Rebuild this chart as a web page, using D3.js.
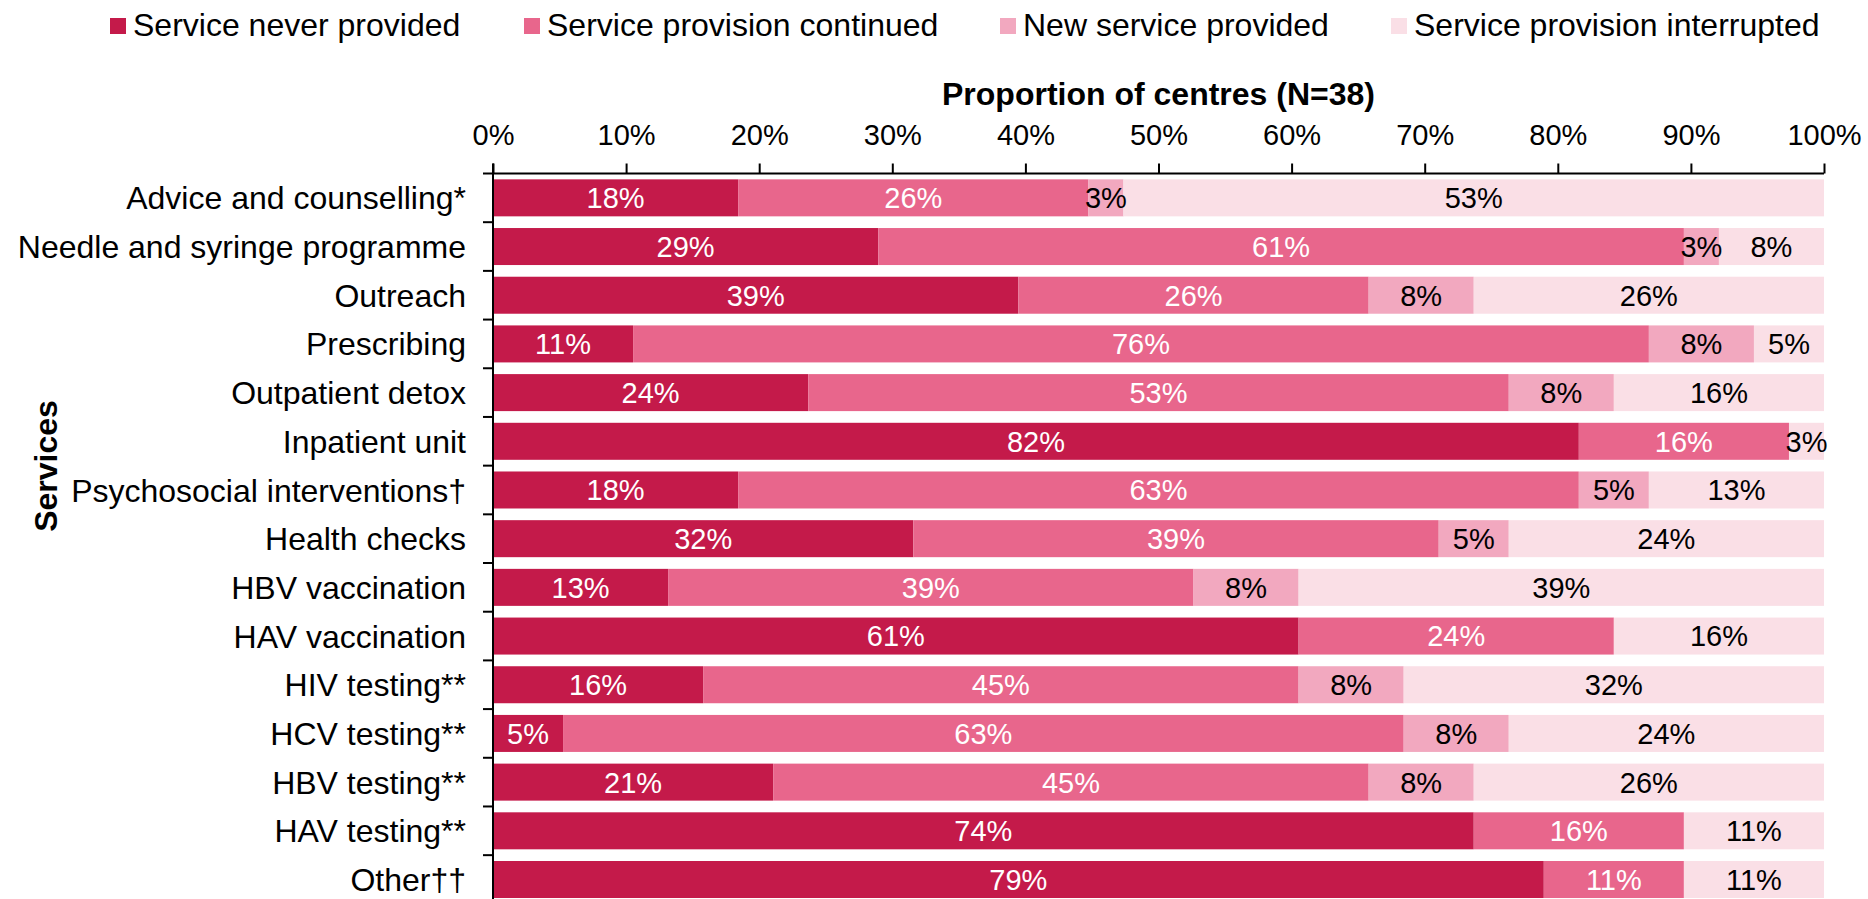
<!DOCTYPE html>
<html>
<head>
<meta charset="utf-8">
<script src="https://cdn.jsdelivr.net/npm/d3@7"></script>
<style>
  html, body { margin: 0; padding: 0; background: #ffffff; }
  svg { display: block; font-family: "Liberation Sans", Arial, sans-serif; }
</style>
</head>
<body>
<svg id="chart" width="1868" height="899"></svg>
<script>
// ---- Data (number of centres out of N = 38) ----
const N = 38;
const categories = [
  "Advice and counselling*",
  "Needle and syringe programme",
  "Outreach",
  "Prescribing",
  "Outpatient detox",
  "Inpatient unit",
  "Psychosocial interventions\u2020",
  "Health checks",
  "HBV vaccination",
  "HAV vaccination",
  "HIV testing**",
  "HCV testing**",
  "HBV testing**",
  "HAV testing**",
  "Other\u2020\u2020"
];
const seriesNames = [
  "Service never provided",
  "Service provision continued",
  "New service provided",
  "Service provision interrupted"
];
const neverProvided   = [7, 11, 15, 4, 9, 31, 7, 12, 5, 23, 6, 2, 8, 28, 30];
const continued       = [10, 23, 10, 29, 20, 6, 24, 15, 15, 9, 17, 24, 17, 6, 4];
const newService      = [1, 1, 3, 3, 3, 0, 2, 2, 3, 0, 3, 3, 3, 0, 0];
const interrupted     = [20, 3, 10, 2, 6, 1, 5, 9, 15, 6, 12, 9, 10, 4, 4];
const xTickValues     = [0, 0.1, 0.2, 0.3, 0.4, 0.5, 0.6, 0.7, 0.8, 0.9, 1.0];
const xAxisTitle = "Proportion of centres (N=38)";
const yAxisTitle = "Services";

// ---- Styles / layout ----
const colors = ["#C41A4A", "#E8668C", "#F2A8BF", "#FADFE6"];
const labelColors = ["#ffffff", "#ffffff", "#000000", "#000000"];
const legendX = [110, 524, 1000, 1391];

const svg = d3.select("#chart");
const plotLeft = 493, plotRight = 1824, plotTop = 173.5, bandStep = 48.69;

const x = d3.scaleLinear().domain([0, 1]).range([plotLeft, plotRight]);
const y = d3.scaleBand().domain(categories)
  .range([plotTop, plotTop + bandStep * categories.length])
  .paddingInner(0.24).paddingOuter(0.12);

// Build stacked data
const table = categories.map((c, i) => ({
  category: c,
  s0: neverProvided[i] / N,
  s1: continued[i] / N,
  s2: newService[i] / N,
  s3: interrupted[i] / N
}));
const stacked = d3.stack().keys(["s0", "s1", "s2", "s3"])(table);

// Bars
const layers = svg.append("g").selectAll("g")
  .data(stacked).join("g")
  .attr("fill", (d, i) => colors[i]);
layers.selectAll("rect")
  .data(d => d).join("rect")
  .attr("x", d => x(d[0]))
  .attr("y", d => y(d.data.category))
  .attr("width", d => x(d[1]) - x(d[0]))
  .attr("height", y.bandwidth());

// Value labels
stacked.forEach((layer, li) => {
  svg.append("g").selectAll("text")
    .data(layer.filter(d => d[1] - d[0] > 0)).join("text")
    .attr("x", d => (x(d[0]) + x(d[1])) / 2)
    .attr("y", d => y(d.data.category) + y.bandwidth() / 2)
    .attr("dy", "0.36em")
    .attr("text-anchor", "middle")
    .attr("fill", labelColors[li])
    .style("font-size", "29px")
    .text(d => Math.round((d[1] - d[0]) * 100) + "%");
});

// X axis (top)
const xAxis = d3.axisTop(x).tickValues(xTickValues)
  .tickFormat(d3.format(".0%")).tickSize(10).tickPadding(19);
const gx = svg.append("g").attr("transform", `translate(0,${plotTop})`).call(xAxis);
gx.select(".domain").attr("stroke", "#000").attr("stroke-width", 2)
  .attr("d", `M${plotLeft},0H${plotRight}`);
gx.selectAll(".tick line").attr("stroke", "#000").attr("stroke-width", 2);
gx.selectAll(".tick text").style("font-size", "29px").attr("fill", "#000")
  .style("font-family", "'Liberation Sans', Arial, sans-serif");

// Y axis (left) with ticks at category boundaries
const gy = svg.append("g").attr("transform", `translate(${plotLeft},0)`);
gy.append("line").attr("x1", 0).attr("x2", 0)
  .attr("y1", plotTop - 10).attr("y2", plotTop + bandStep * categories.length)
  .attr("stroke", "#000").attr("stroke-width", 2);
const boundaries = categories.map(c => y(c) - y.step() * y.paddingOuter());
gy.selectAll("line.tk").data(boundaries).join("line")
  .attr("class", "tk")
  .attr("x1", -10).attr("x2", 0)
  .attr("y1", d => d).attr("y2", d => d)
  .attr("stroke", "#000").attr("stroke-width", 2);
gy.selectAll("text.cat").data(categories).join("text")
  .attr("class", "cat")
  .attr("x", -27)
  .attr("y", d => y(d) + y.bandwidth() / 2)
  .attr("dy", "0.36em")
  .attr("text-anchor", "end")
  .attr("fill", "#000")
  .style("font-size", "32px")
  .text(d => d);

// Axis titles
svg.append("text")
  .attr("x", (plotLeft + plotRight) / 2).attr("y", 105)
  .attr("text-anchor", "middle")
  .style("font-size", "32px").style("font-weight", "bold")
  .text(xAxisTitle);
svg.append("text")
  .attr("transform", "translate(57,466) rotate(-90)")
  .attr("text-anchor", "middle")
  .style("font-size", "32px").style("font-weight", "bold")
  .text(yAxisTitle);

// Legend
const lg = svg.append("g").selectAll("g").data(seriesNames).join("g")
  .attr("transform", (d, i) => `translate(${legendX[i]},0)`);
lg.append("rect").attr("x", 0).attr("y", 18).attr("width", 16).attr("height", 16)
  .attr("fill", (d, i) => colors[i]);
lg.append("text").attr("x", 23).attr("y", 36)
  .style("font-size", "32px").attr("fill", "#000")
  .text(d => d);
</script>
</body>
</html>
